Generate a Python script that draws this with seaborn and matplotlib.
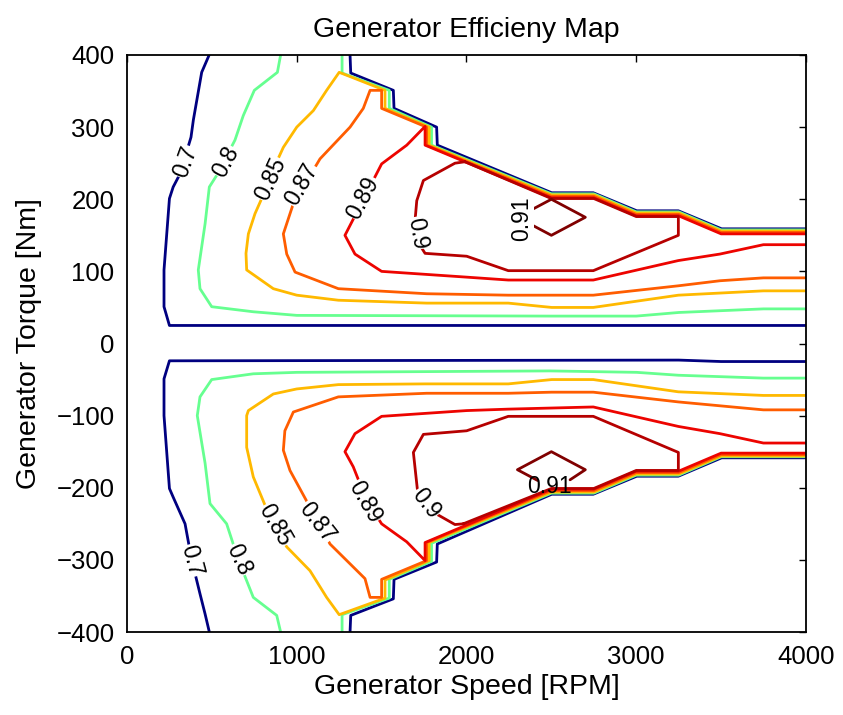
import numpy as np
import pandas as pd
import matplotlib
matplotlib.use("Agg")
import matplotlib.pyplot as plt
import seaborn as sns

# ---------------- data (speed [RPM], torque [Nm]) ----------------
LEVELS = [0.70, 0.80, 0.85, 0.87, 0.89, 0.90, 0.91]

# --- upper half (positive torque) ---
T70_ENV_S = [1314, 1318, 1569, 1573, 1824, 1828, 2502, 2747, 3003, 3248, 3503, 4000]
T70_ENV_T = [400, 375, 351, 326, 300, 275, 209, 209, 184, 184, 159, 159]
T70_IN_S = [484, 440, 391, 377, 312, 272, 250, 218, 218, 250, 4000]
T70_IN_T = [400, 376, 310, 286, 235, 217, 201, 102, 51, 25, 25]

T80_ENV_S = [1267, 1267, 1545, 1545, 1794, 1794, 2500, 2750, 3000, 3250, 3500, 4000]
T80_ENV_T = [400, 375, 351, 326, 300, 275, 207.5, 207.5, 182.5, 182.5, 157.5, 157.5]
T80_IN_S = [905, 886, 750, 685, 636, 528, 485, 460, 420, 430, 499, 744, 1000, 2500, 3000, 3250, 3750, 4000]
T80_IN_T = [400, 376, 351, 316, 282, 233, 217, 166, 102, 76, 51, 44, 39, 38, 38, 43, 48, 48]

T85_S = [4000, 3500, 3250, 3000, 2750, 2500, 1780, 1780, 1520, 1520, 1250, 1176, 1098, 1000, 921, 882,
         803, 754, 715, 701, 705, 862, 1000, 1245, 1765, 2246, 2502, 2747, 3248, 3749, 4000]
T85_T = [156, 156, 181, 181, 206, 206, 275, 300, 326, 351, 376, 351, 323, 300, 272, 252,
         206, 180, 152, 125, 102, 76, 67, 60, 56, 56, 50, 50, 67, 73, 73]

T87_S = [4000, 3500, 3250, 3000, 2750, 2500, 1765, 1765, 1500, 1500, 1432, 1392, 1314, 1137, 980, 921,
         941, 990, 1245, 1765, 2246, 2747, 3248, 3493, 3749, 4000]
T87_T = [154, 154, 179, 179, 204, 204, 275, 300, 326, 351, 351, 326, 300, 256, 194, 152,
         124, 99, 76, 69, 67, 67, 80, 87, 91, 91]

T89_S = [4000, 3500, 3250, 3000, 2750, 2500, 1756, 1756, 1648, 1500, 1284, 1343, 1500, 2001, 2246, 2747,
         3248, 3493, 3749, 4000]
T89_T = [152, 152, 177, 177, 202, 202, 275, 301, 275, 249, 150, 124, 100, 92, 88, 88,
         115, 124, 137, 137]

T90_S = [1991, 1932, 1746, 1707, 1697, 1726, 1756, 2001, 2246, 2747, 3248, 3248, 3000, 2750, 2500, 1991]
T90_T = [252, 250, 226, 198, 171, 136, 125, 121, 101, 101, 150, 176, 176, 201, 201, 252]

T91_S = [2300, 2500, 2700, 2500, 2300]
T91_T = [175, 200, 175, 150, 175]

# --- lower half (negative torque) ---
B70_ENV_S = [1314, 1318, 1569, 1573, 1824, 1828, 2502, 2747, 3003, 3248, 3503, 4000]
B70_ENV_T = [-400, -377, -354, -327, -303, -278, -209, -209, -184, -184, -158.5, -158.5]
B70_IN_S = [485, 460, 430, 381, 342, 272, 250, 218, 218, 250, 3250, 3500, 4000]
B70_IN_T = [-400, -375, -347, -300, -250, -213, -201, -100, -49, -24, -23, -25, -25]

B80_ENV_S = [1267, 1267, 1545, 1545, 1794, 1794, 2500, 2750, 3000, 3250, 3500, 4000]
B80_ENV_T = [-400, -376, -353, -327, -302, -277, -207.5, -207.5, -182.5, -182.5, -157, -157]
B80_IN_S = [905, 882, 744, 656, 587, 489, 460, 414, 430, 499, 744, 1000, 2492, 3003, 3248, 3749, 4000]
B80_IN_T = [-400, -377, -352, -300, -250, -222, -166, -100, -74, -50, -42, -40, -38, -40, -44, -48, -48]

B85_S = [4000, 3500, 3250, 3000, 2750, 2500, 1780, 1780, 1520, 1520, 1250, 1176, 1078, 941, 862, 744,
         705, 705, 715, 862, 1000, 1245, 1756, 2246, 2502, 2747, 3248, 3749, 4000]
B85_T = [-156, -156, -181, -181, -206, -206, -276, -301, -328, -353, -376, -352, -315, -282, -252, -185,
         -144, -100, -93, -70, -63, -57, -56, -56, -50, -50, -67, -72, -72]

B87_S = [4000, 3500, 3250, 3000, 2750, 2500, 1765, 1765, 1500, 1500, 1432, 1402, 1196, 960, 921, 930,
         980, 1245, 1765, 2246, 2502, 2747, 3248, 3749, 4000]
B87_T = [-154, -154, -179, -179, -204, -204, -276, -301, -327, -352, -352, -326, -278, -176, -148, -121,
         -95, -74, -69, -69, -67.5, -67.5, -81, -92, -92]

B89_S = [4000, 3500, 3250, 3000, 2750, 2500, 1756, 1756, 1648, 1500, 1412, 1333, 1284, 1343, 1500, 2001,
         2246, 2747, 3248, 3493, 3749, 4000]
B89_T = [-152, -152, -177, -177, -202, -202, -276, -301, -275, -250, -218, -171, -150, -125, -101, -93,
         -91, -88, -115, -125, -138, -138]

B90_S = [1981, 1932, 1805, 1710, 1687, 1746, 2001, 2246, 2747, 3248, 3248, 3000, 2750, 2500, 1981]
B90_T = [-250, -251, -234, -201, -151, -126, -121, -101, -101, -151, -176, -176, -201, -201, -250]

# visible part of the lower 0.91 diamond (its bottom vertex lies under the label)
B91_S = [2420, 2300, 2500, 2700, 2610]
B91_T = [-190, -175, -150, -175, -189]

# contour labels: text, speed, torque, angle, white backing
LABEL_TEXT = ["0.7", "0.8", "0.85", "0.87", "0.89", "0.9", "0.91",
              "0.7", "0.8", "0.85", "0.87", "0.89", "0.9", "0.91"]
LABEL_S = [342, 583, 846, 1029, 1392, 1710, 2325,
           381, 656, 872, 1117, 1400, 1760, 2490]
LABEL_T = [252, 252, 228, 220, 202, 153, 173,
           -301, -300, -252, -248, -220, -222, -198]
LABEL_ANGLE = [70, 62, 65, 60, 62, -80, 90,
               -75, -65, -60, -52, -60, -52, 0]
LABEL_BACKED = [True, True, True, True, True, True, True,
                True, True, True, True, True, True, False]

TITLE = "Generator Efficieny Map"
XLABEL = "Generator Speed [RPM]"
YLABEL = "Generator Torque [Nm]"
XTICKS = [0, 1000, 2000, 3000, 4000]
YTICKS = [-400, -300, -200, -100, 0, 100, 200, 300, 400]

# ---------------- build long table ----------------
segments = [
    ("t70e", 0.70, T70_ENV_S, T70_ENV_T), ("t70i", 0.70, T70_IN_S, T70_IN_T),
    ("t80e", 0.80, T80_ENV_S, T80_ENV_T), ("t80i", 0.80, T80_IN_S, T80_IN_T),
    ("t85", 0.85, T85_S, T85_T), ("t87", 0.87, T87_S, T87_T),
    ("t89", 0.89, T89_S, T89_T), ("t90", 0.90, T90_S, T90_T), ("t91", 0.91, T91_S, T91_T),
    ("b70e", 0.70, B70_ENV_S, B70_ENV_T), ("b70i", 0.70, B70_IN_S, B70_IN_T),
    ("b80e", 0.80, B80_ENV_S, B80_ENV_T), ("b80i", 0.80, B80_IN_S, B80_IN_T),
    ("b85", 0.85, B85_S, B85_T), ("b87", 0.87, B87_S, B87_T),
    ("b89", 0.89, B89_S, B89_T), ("b90", 0.90, B90_S, B90_T), ("b91", 0.91, B91_S, B91_T),
]
rows = []
for name, lev, ss, tt in segments:
    for i, (s, t) in enumerate(zip(ss, tt)):
        rows.append({"seg": name, "level": lev, "order": i, "speed": s, "torque": t})
df = pd.DataFrame(rows)

# ---------------- plot ----------------
sns.set_style("white")
plt.rcParams["font.family"] = ["Liberation Sans", "DejaVu Sans"]
plt.rcParams["text.color"] = "black"
plt.rcParams["axes.labelcolor"] = "black"

fig = plt.figure(figsize=(8.43, 7.15), dpi=100)
ax = fig.add_axes([127 / 843, 1 - 632 / 715, (806 - 127) / 843, (632 - 55) / 715])

sns.lineplot(data=df, x="speed", y="torque", hue="level", units="seg", estimator=None,
             sort=False, palette=matplotlib.colormaps["jet"], hue_norm=(0.70, 0.91), legend=False,
             linewidth=2.0, ax=ax)

for txt, s, t, a, backed in zip(LABEL_TEXT, LABEL_S, LABEL_T, LABEL_ANGLE, LABEL_BACKED):
    bb = dict(facecolor="white", edgecolor="none", pad=0.3) if backed else None
    ax.text(s, t, txt, rotation=a, rotation_mode="anchor", ha="center", va="center",
            fontsize=16.5, color="black", zorder=5, bbox=bb)

ax.set_xlim(0, 4000)
ax.set_ylim(-400, 400)
ax.set_xticks(XTICKS)
ax.set_yticks(YTICKS)
ax.tick_params(direction="in", length=5, width=1.0, top=True, right=True,
               labelsize=18.5, colors="black")
ax.tick_params(axis="x", pad=9)
ax.tick_params(axis="y", pad=9)
for sp in ax.spines.values():
    sp.set_visible(True)
    sp.set_linewidth(1.3)
    sp.set_color("black")

ax.set_title(TITLE, fontsize=20.5, pad=13, color="black")
ax.set_xlabel(XLABEL, fontsize=20.5, color="black")
ax.set_ylabel(YLABEL, fontsize=20.5, color="black")
ax.xaxis.set_label_coords(0.5, -0.072)
ax.yaxis.set_label_coords(-0.125, 0.5)

fig.savefig("out.png", dpi=100)
